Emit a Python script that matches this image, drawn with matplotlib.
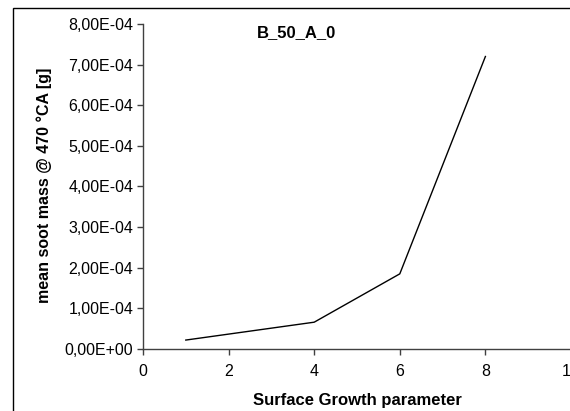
import matplotlib
matplotlib.use("Agg")
import matplotlib.pyplot as plt
from matplotlib.ticker import FuncFormatter, MultipleLocator
from matplotlib.patches import Rectangle

plt.rcParams['font.family'] = ['Liberation Sans', 'DejaVu Sans']

# surface growth parameter vs. mean soot mass
growth_param = [1, 4, 6, 8]
soot_mass = [2.2e-5, 6.6e-5, 1.85e-4, 7.2e-4]

fig = plt.figure(figsize=(5.7, 4.11), dpi=100)
ax = fig.add_axes([143 / 570, 1 - 349 / 411, 428 / 570, 325 / 411])

ax.plot(growth_param, soot_mass, color='black', linewidth=1.0)

ax.set_xlim(0, 10)
ax.set_ylim(0, 8e-4)
ax.xaxis.set_major_locator(MultipleLocator(2))
ax.yaxis.set_major_locator(MultipleLocator(1e-4))
ax.yaxis.set_major_formatter(FuncFormatter(lambda v, p: f"{v:.2E}".replace('.', ',')))

for s in ['top', 'right']:
    ax.spines[s].set_visible(False)
for s in ['left', 'bottom']:
    ax.spines[s].set_color('#404040')
    ax.spines[s].set_linewidth(1.0)
ax.tick_params(direction='out', length=4, width=1, color='#404040',
               labelsize=11.5, pad=3)
ax.tick_params(axis='x', pad=7)

fig.text(297 / 570, 1 - 33 / 411, 'B_50_A_0',
         ha='center', va='center', fontsize=12, fontweight='bold')
fig.text(44 / 570, 1 - 185 / 411, 'mean soot mass @ 470 °CA [g]', rotation=90,
         ha='center', va='center', fontsize=11.5, fontweight='bold')
fig.text(357 / 570, 1 - 400 / 411, 'Surface Growth parameter',
         ha='center', va='center', fontsize=12, fontweight='bold')

# chart area frame
fig.add_artist(Rectangle((13 / 570, -0.2), 1.2, 1.2 - 8 / 411, transform=fig.transFigure,
                         fill=False, edgecolor='black', linewidth=1.0))

fig.savefig('out.png', dpi=100)
